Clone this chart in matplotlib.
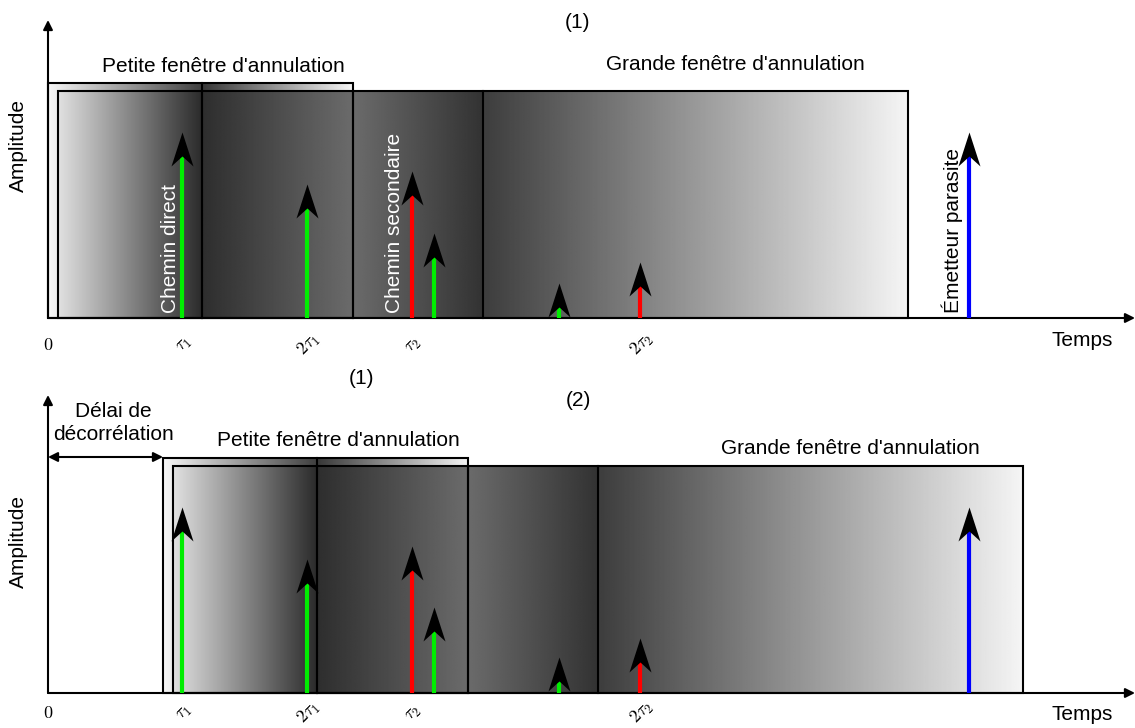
import numpy as np
import matplotlib
matplotlib.use("Agg")
import matplotlib.pyplot as plt
from matplotlib.path import Path
from matplotlib.patches import Rectangle

plt.rcParams['font.family'] = ['Liberation Sans', 'DejaVu Sans']
plt.rcParams['mathtext.fontset'] = 'cm'

# ---------------- data ----------------
# pulse times (time units measured from the origin) and amplitudes
pulse_times = [134, 259, 364, 386, 511, 592, 921]
pulse_amp_top = [186, 134, 147, 85, 35, 56, 186]
pulse_amp_bot = [186, 134, 147, 86, 36, 55, 186]
pulse_colors = ['#00ee00', '#00ee00', '#ff0000', '#00ee00', '#00ee00', '#ff0000', '#0000ff']

tick_times = [0, 134, 259, 364, 592]
tick_labels = ['$0$', r'$\tau_1$', r'$2\tau_1$', r'$\tau_2$', r'$2\tau_2$']

# cancellation windows (edges, relative to the decorrelation delay)
small_edges = [0, 154, 305]
large_edges = [10, 154, 305, 435, 860]
small_top = 235
large_top = 227
small_shades = [(0.97, 0.25), (0.22, 0.96)]
large_shades = [(0.88, 0.17), (0.18, 0.42), (0.42, 0.20), (0.24, 0.96)]

delays = [0, 115]          # panel (1) no delay, panel (2) decorrelation delay
panel_ylims = [(-46, 318), (-35, 329)]
x_lim = (-48, 1087)
axis_top = 298
axis_end = 1087

# ---------------- figure ----------------
fig = plt.figure(figsize=(11.35, 7.28), dpi=100)
axes = [fig.add_axes([0, 0.5, 1, 0.5]), fig.add_axes([0, 0, 1, 0.5])]

head = Path([(0, 0), (11, -34), (0, -24), (-11, -34), (0, 0)],
            [Path.MOVETO, Path.LINETO, Path.LINETO, Path.LINETO, Path.CLOSEPOLY])
head_ms = 2 * 34 * 0.72
FS = 15


def gradient(ax, x0, x1, top, a, b):
    ax.imshow(np.linspace(a, b, 256)[None, :], extent=(x0, x1, 0, top),
              cmap='gray', vmin=0, vmax=1, aspect='auto',
              interpolation='bilinear', zorder=1)


for k, ax in enumerate(axes):
    d = delays[k]
    amps = pulse_amp_top if k == 0 else pulse_amp_bot

    # small window
    for (x0, x1), (a, b) in zip(zip(small_edges[:-1], small_edges[1:]), small_shades):
        gradient(ax, x0 + d, x1 + d, small_top, a, b)
    # large window
    for (x0, x1), (a, b) in zip(zip(large_edges[:-1], large_edges[1:]), large_shades):
        gradient(ax, x0 + d, x1 + d, large_top, a, b)

    ax.add_patch(Rectangle((small_edges[0] + d, 0), small_edges[-1] - small_edges[0],
                           small_top, fill=False, ec='black', lw=1.5, zorder=2))
    ax.add_patch(Rectangle((large_edges[0] + d, 0), large_edges[-1] - large_edges[0],
                           large_top, fill=False, ec='black', lw=1.5, zorder=2))
    ax.plot([small_edges[1] + d] * 2, [0, small_top], color='black', lw=1.5, zorder=2)
    for e in large_edges[1:-1]:
        ax.plot([e + d] * 2, [0, large_top], color='black', lw=1.5, zorder=2)

    # axes
    ax.annotate('', xy=(0, axis_top), xytext=(0, 0),
                arrowprops=dict(arrowstyle='-|>', lw=1.5, color='black',
                                mutation_scale=14, shrinkA=0, shrinkB=0), zorder=3)
    ax.annotate('', xy=(axis_end, 0), xytext=(0, 0),
                arrowprops=dict(arrowstyle='-|>', lw=1.5, color='black',
                                mutation_scale=14, shrinkA=0, shrinkB=0), zorder=3)

    # pulses
    for t, a, c in zip(pulse_times, amps, pulse_colors):
        ax.plot([t, t], [0, a - 22], color=c, lw=3, solid_capstyle='butt', zorder=4)
        ax.plot([t], [a], marker=head, ms=head_ms, color='black', mew=0,
                linestyle='none', zorder=5)

    # tick labels
    for t, lab in zip(tick_times, tick_labels):
        rot = 0 if t == 0 else 45
        ax.text(t + (0 if t == 0 else 2), -27 if k == 0 else -20, lab,
                fontsize=13, rotation=rot,
                ha='center', va='center', zorder=5)

    ax.text(-30, 173 if k == 0 else 152, 'Amplitude', rotation=90, fontsize=FS,
            ha='center', va='center')
    ax.text(1034, -22, 'Temps', fontsize=FS, ha='center', va='center')

    ax.text(175 + d, 252, "Petite fenêtre d'annulation",
            fontsize=FS, ha='center', va='center')
    ax.text(687 + d, 253 if k == 0 else 245, "Grande fenêtre d'annulation",
            fontsize=FS, ha='center', va='center')

    ax.set_xlim(*x_lim)
    ax.set_ylim(*panel_ylims[k])
    ax.set_axis_off()

top, bot = axes
top.text(529, 296, '(1)', fontsize=FS, ha='center', va='center')
top.text(122, 5, 'Chemin direct', rotation=90, color='white', fontsize=FS,
         ha='center', va='bottom', zorder=6)
top.text(347, 5, 'Chemin secondaire', rotation=90, color='white', fontsize=FS,
         ha='center', va='bottom', zorder=6)
top.text(904, 5, 'Émetteur parasite', rotation=90, color='black', fontsize=FS,
         ha='center', va='bottom', zorder=6)

bot.text(314, 315, '(1)', fontsize=FS, ha='center', va='center')
bot.text(530, 292, '(2)', fontsize=FS, ha='center', va='center')
bot.text(65, 270, 'Délai de\ndécorrélation', fontsize=FS, ha='center', va='center',
         linespacing=1.3)
bot.annotate('', xy=(delays[1], 236), xytext=(0, 236),
             arrowprops=dict(arrowstyle='<|-|>', lw=1.5, color='black',
                             mutation_scale=14, shrinkA=0, shrinkB=0), zorder=3)

fig.savefig('out.png', dpi=100)
